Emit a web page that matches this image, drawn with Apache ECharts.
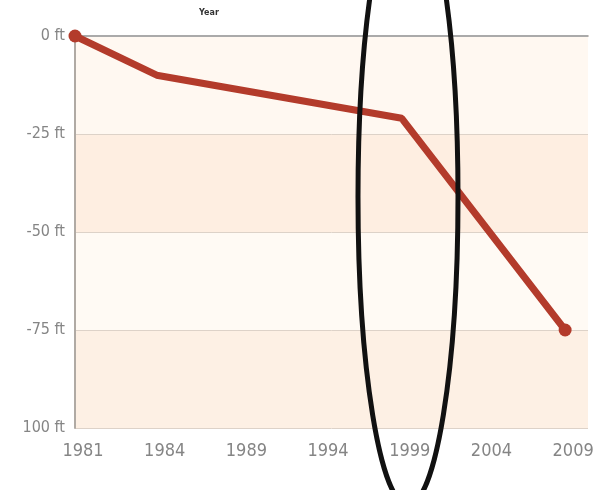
<!DOCTYPE html>
<html><head><meta charset="utf-8">
<script src="https://cdn.jsdelivr.net/npm/echarts@6/dist/echarts.min.js"></script>
<style>html,body{margin:0;padding:0;background:#fff}#c{width:593px;height:490px}</style>
</head><body><div id="c"></div>
<script>
const categories = ['1981','1984','1989','1994','1999','2004','2009'];
// index into categories, depth in feet
const pointIndex = [0, 1, 4, 6];
const depthValues = [0, -10, -21, -75];
const yTickValues = [0, -25, -50, -75, -100];
const yTickLabels = ['0 ft', '-25 ft', '-50 ft', '-75 ft', '100 ft'];
const axisTitle = 'Year';

const FONT = "'DejaVu Sans Condensed', 'Liberation Sans', 'DejaVu Sans', sans-serif";
const data = pointIndex.map((i, k) => [i, depthValues[k]]);
const chart = echarts.init(document.getElementById('c'));
chart.setOption({
  animation: false,
  title: {text: axisTitle, left: 194, top: 4, textStyle: {fontSize: 8, fontWeight: 'bold', color: '#333', fontFamily: 'DejaVu Sans'}},
  grid: {left: 75, right: 5, top: 36, bottom: 62, containLabel: false, outerBoundsMode: 'none'},
  xAxis: {
    type: 'value', min: 0, max: 6.28, interval: 1,
    axisLine: {show: true, lineStyle: {color: '#c8c2bc', width: 2}},
    axisTick: {show: false},
    splitLine: {show: false},
    axisLabel: {
      margin: 14, color: '#858585', fontSize: 18, fontFamily: FONT,
      padding: [0, 0, 0, 16],
      showMaxLabel: false, hideOverlap: false,
      formatter: v => Number.isInteger(v) && categories[v] !== undefined ? categories[v] : ''
    }
  },
  yAxis: {
    type: 'value', min: -100, max: 0, interval: 25,
    axisLine: {show: true, lineStyle: {color: '#b0aaa4', width: 2}},
    axisTick: {show: false},
    splitLine: {show: true, lineStyle: {color: '#ddd2c8', width: 1}},
    splitArea: {show: true, areaStyle: {color: ['#fdf0e4', '#fffaf4', '#feeee1', '#fff8f1']}},
    axisLabel: {
      margin: 10, color: '#858585', fontSize: 16, fontFamily: FONT,
      formatter: v => { const i = yTickValues.indexOf(v); return i >= 0 ? yTickLabels[i] : ''; }
    }
  },
  series: [{
    type: 'line', data: data,
    lineStyle: {color: '#b33b2b', width: 7},
    itemStyle: {color: '#b33b2b'},
    symbol: 'circle',
    symbolSize: (v, p) => (p.dataIndex === 0 || p.dataIndex === data.length - 1) ? 13 : 0,
    markLine: {
      silent: true, symbol: 'none', label: {show: false},
      lineStyle: {color: '#aaa', width: 2, type: 'solid'},
      data: [{yAxis: 0}]
    },
    z: 5
  }],
  graphic: [{
    type: 'ellipse', shape: {cx: 408, cy: 197, rx: 50, ry: 308},
    style: {fill: 'none', stroke: '#111', lineWidth: 5}, z: 100
  }]
});
</script></body></html>
